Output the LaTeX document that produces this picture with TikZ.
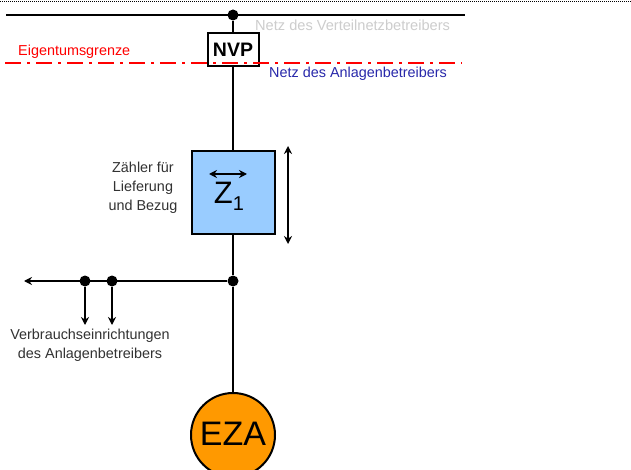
\documentclass[tikz,border=0pt]{standalone}
\usepackage{fontspec}
\setmainfont{Liberation Sans}
\usetikzlibrary{arrows.meta}
\definecolor{zblue}{RGB}{153,204,255}
\definecolor{ezaorange}{RGB}{255,153,0}
\definecolor{netzgrey}{RGB}{205,205,205}
\definecolor{netzblue}{RGB}{40,40,170}
\definecolor{labelgrey}{RGB}{50,50,50}
\tikzset{
  x=1pt,y=-1pt,
  wire/.style={draw=black,line width=2pt},
  arrowwire/.style={wire,-{Stealth[length=8pt,width=8pt]}},
  dblarrow/.style={wire,{Stealth[length=8pt,width=8pt]}-{Stealth[length=8pt,width=8pt]}},
  junction/.style={circle,fill=black,inner sep=0pt,minimum size=11pt},
  lbl/.style={font=\fontsize{14.4}{19}\selectfont,text=labelgrey,align=center,inner sep=0pt},
}
\begin{document}
\begin{tikzpicture}
\useasboundingbox (0,0) rectangle (631,470);
\clip (0,0) rectangle (631,470);
\fill[white] (0,0) rectangle (631,470);
\coordinate (topL) at (0,1);
\coordinate (topR) at (631,1);
\draw[black,line width=0.7pt,dash pattern=on 1pt off 1pt] (topL) -- (topR);
% busbar
\coordinate (busL) at (6,15);
\coordinate (busR) at (465,15);
\draw[wire] (busL) -- (busR);
\node[junction] (top) at (233,15) {};
% boundary
\coordinate (egL) at (5,63);
\coordinate (egR) at (462,63);
% main line
\node[draw=black,line width=2pt,fill=zblue,minimum width=83pt,minimum height=83pt,inner sep=0pt] (zbox) at (233,193) {};
\node[junction] (mid) at (233,281) {};
\node[circle,draw=black,line width=2pt,fill=ezaorange,minimum size=84pt,inner sep=0pt,font=\fontsize{34}{34}\selectfont] (eza) at (233,435) {\raisebox{2pt}{EZA}};
\node[draw=black,line width=2pt,fill=white,minimum width=51pt,minimum height=33pt,inner sep=0pt,font=\fontsize{19.5}{20}\selectfont\bfseries] (nvp) at (233,50) {NVP};
\draw[wire] (top) -- (nvp);
\draw[wire] (nvp) -- (zbox);
\draw[wire] (zbox) -- (mid);
\draw[wire] (mid) -- (eza);
\draw[red,line width=2pt,dash pattern=on 16pt off 6pt on 3pt off 6pt] (egL) -- (egR);
% labels
\node[lbl,font=\fontsize{14.6}{19}\selectfont,text=netzgrey,anchor=west] (l1) at (255,25) {Netz des Verteilnetzbetreibers};
\node[lbl,text=red,anchor=west] (l2) at (18,52) {Eigentumsgrenze};
\node[lbl,text=netzblue,anchor=west] (l3) at (269,74) {Netz des Anlagenbetreibers};
\node[lbl,anchor=center] (l4) at (143,188) {Zähler für\\Lieferung\\und Bezug};
\node[lbl,anchor=center] (l5) at (90,345) {Verbrauchseinrichtungen\\des Anlagenbetreibers};
% meter
\coordinate (za) at (209,174);
\coordinate (zb) at (247,174);
\draw[dblarrow] (za) -- (zb);
\node[inner sep=0pt,font=\fontsize{31}{31}\selectfont] (z1) at (229,196) {Z\raisebox{-7pt}{\fontsize{20}{20}\selectfont 1}};
\coordinate (va) at (288,146);
\coordinate (vb) at (288,244);
\draw[dblarrow] (va) -- (vb);
% load branch
\node[junction] (j1) at (85,281) {};
\node[junction] (j2) at (112,281) {};
\coordinate (lend) at (24,281);
\coordinate (d1) at (85,325);
\coordinate (d2) at (112,325);
\draw[arrowwire] (mid) -- (lend);
\draw[arrowwire] (j1) -- (d1);
\draw[arrowwire] (j2) -- (d2);
\end{tikzpicture}
\end{document}
